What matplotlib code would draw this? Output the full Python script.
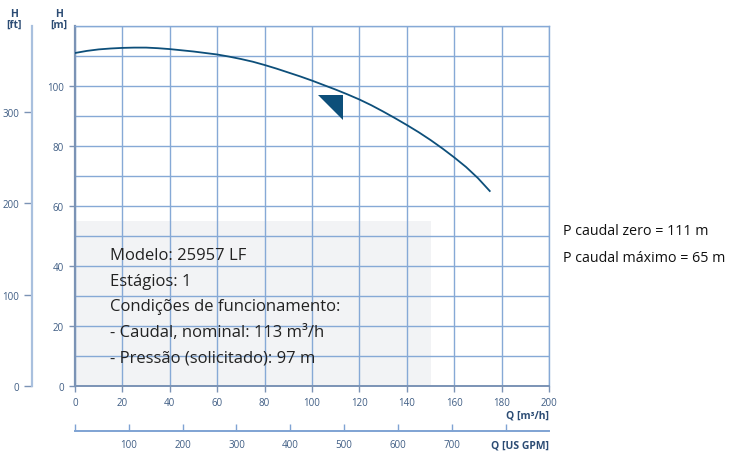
import numpy as np
import matplotlib
matplotlib.use("Agg")
from matplotlib import pyplot as plt
from matplotlib.patches import Rectangle

plt.rcParams['font.family'] = ['Open Sans', 'DejaVu Sans']

# pump curve
flow = [0, 5, 10, 15, 20, 25, 30, 35, 40, 45, 50, 55, 60, 65, 70, 75, 80, 85, 90, 95,
        100, 105, 110, 115, 120, 125, 130, 135, 140, 145, 150, 155, 160, 165, 170, 175]
head = [111, 111.7, 112.2, 112.5, 112.7, 112.8, 112.8, 112.6, 112.3, 111.9, 111.5, 111.0,
        110.5, 109.8, 109.0, 108.1, 107.0, 105.8, 104.5, 103.2, 101.8, 100.3, 98.8, 97.2,
        95.5, 93.6, 91.5, 89.3, 87.0, 84.6, 82.0, 79.2, 76.2, 73.0, 69.3, 65]

duty_flow = 113
duty_head = 97

box_flow = 150
box_head = 55

info_lines = ["Modelo: 25957 LF",
              "Estágios: 1",
              "Condições de funcionamento:",
              "- Caudal, nominal: 113 m³/h",
              "- Pressão (solicitado): 97 m"]
side_lines = ["P caudal zero = 111 m", "P caudal máximo = 65 m"]

x_ticks = list(range(0, 201, 20))
y_ticks = list(range(0, 101, 20))
ft_ticks = [0, 100, 200, 300]
gpm_ticks = list(range(0, 801, 100))
gpm_labels = ["", "100", "200", "300", "400", "500", "600", "700", ""]

M_PER_FT = 0.3048
M3H_PER_GPM = 0.22712

grid_c = "#86a9d6"
spine_c = "#7b93b5"
tick_c = "#3f5d84"
curve_c = "#0d4f7a"
label_c = "#2c4c74"

W, H = 734, 452
fig = plt.figure(figsize=(W / 100, H / 100), dpi=100)

L, R, B, T = 75 / W, 549 / W, 1 - 387 / H, 1 - 27 / H
ax = fig.add_axes([L, B, R - L, T - B])
ax.set_xlim(0, 200)
ax.set_ylim(0, 120)
ax.set_axisbelow(True)

ax.set_xticks(x_ticks)
ax.set_yticks(y_ticks)
ax.set_yticks(range(10, 121, 10), minor=True)
ax.grid(True, which='both', axis='y', color=grid_c, lw=1.0)
ax.grid(True, which='major', axis='x', color=grid_c, lw=1.0)
ax.tick_params(which='minor', length=0)
ax.tick_params(which='major', direction='out', length=4, width=1, color=spine_c,
               labelsize=7, labelcolor=tick_c, pad=4)
for s in ax.spines.values():
    s.set_color(grid_c)
    s.set_linewidth(1.0)
ax.spines['left'].set_color(spine_c)
ax.spines['left'].set_linewidth(1.6)
ax.spines['bottom'].set_color(spine_c)
ax.spines['bottom'].set_linewidth(1.4)

ax.add_patch(Rectangle((0, 0), box_flow, box_head, facecolor="#f2f3f5",
                       edgecolor='none', zorder=0.2))

ax.plot(flow, head, color=curve_c, lw=1.3, zorder=3)
ax.plot([duty_flow], [duty_head], marker=[(-1, 0), (0, 0), (0, -1)],
        markersize=36, color=curve_c, markeredgewidth=0, zorder=4)

y0 = 256
for i, line in enumerate(info_lines):
    fig.text(110 / W, 1 - (y0 + i * 25.6) / H, line, fontsize=12, color="#222222",
             va='center', ha='left')

for i, line in enumerate(side_lines):
    fig.text(563 / W, 1 - (232 + i * 26) / H, line, fontsize=10.3, color="#111111",
             va='center', ha='left')

# H in feet, separate axis on the far left
ax_ft = fig.add_axes([32 / W, B, 0.001, T - B])
ax_ft.set_ylim(0, 120 / M_PER_FT)
ax_ft.set_yticks(ft_ticks)
ax_ft.set_xticks([])
for k in ['top', 'right', 'bottom']:
    ax_ft.spines[k].set_visible(False)
ax_ft.spines['left'].set_color("#a9c0de")
ax_ft.spines['left'].set_linewidth(1.6)
ax_ft.patch.set_visible(False)
ax_ft.tick_params(direction='out', length=6, width=1, color=spine_c,
                  labelsize=7, labelcolor=tick_c, pad=3)

# Q in US GPM, separate axis below
ax_gpm = fig.add_axes([L, 1 - 432 / H, R - L, 0.001])
ax_gpm.set_xlim(0, 200 / M3H_PER_GPM)
ax_gpm.set_xticks(gpm_ticks)
ax_gpm.set_xticklabels(gpm_labels)
ax_gpm.set_yticks([])
for k in ['top', 'right', 'left']:
    ax_gpm.spines[k].set_visible(False)
ax_gpm.spines['bottom'].set_color("#7fa3d3")
ax_gpm.spines['bottom'].set_linewidth(1.4)
ax_gpm.patch.set_visible(False)
ax_gpm.tick_params(direction='in', length=5, width=1, color="#7fa3d3",
                   labelsize=7, labelcolor=tick_c, pad=6)

fig.text(14 / W, 1 - 20 / H, "H\n[ft]", fontsize=7.5, fontweight='bold', color=label_c,
         ha='center', va='center', linespacing=1.0)
fig.text(59 / W, 1 - 20 / H, "H\n[m]", fontsize=7.5, fontweight='bold', color=label_c,
         ha='center', va='center', linespacing=1.0)
fig.text(549 / W, 1 - 416 / H, "Q [m³/h]", fontsize=7.5, fontweight='bold', color=label_c,
         ha='right', va='center')
fig.text(549 / W, 1 - 446 / H, "Q [US GPM]", fontsize=7.5, fontweight='bold', color=label_c,
         ha='right', va='center')

fig.savefig("out.png", dpi=100)
